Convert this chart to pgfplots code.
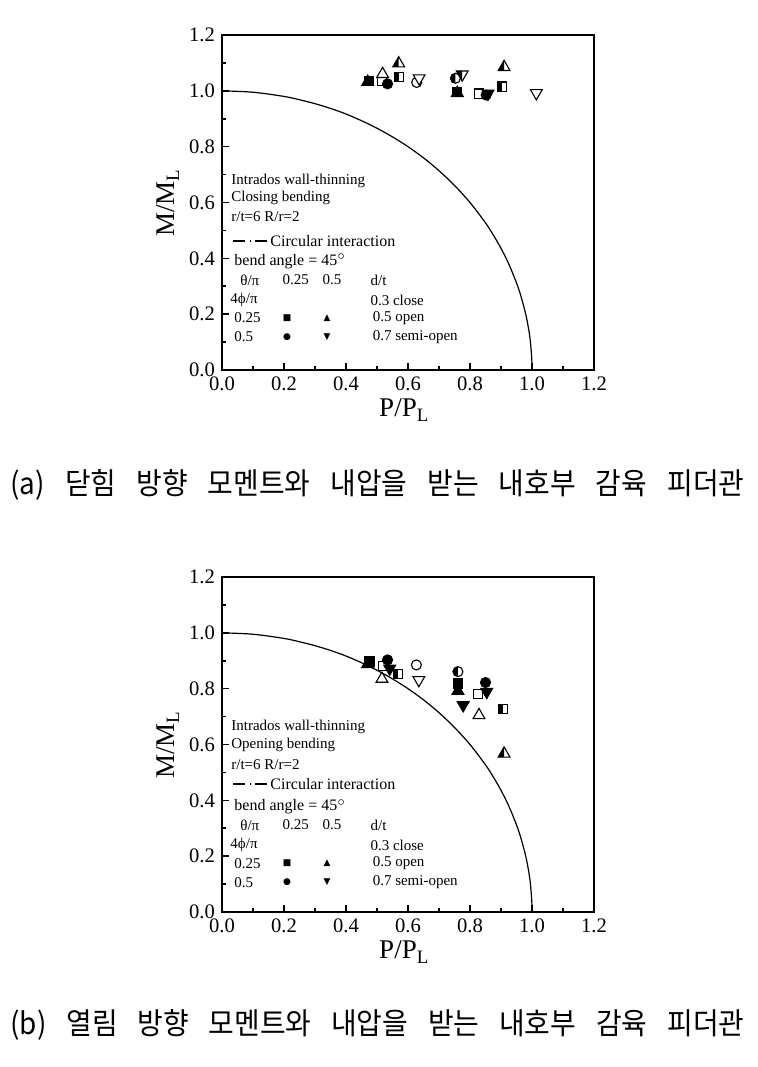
\documentclass[border=0pt]{standalone}
\usepackage{pgfplots}
\usepackage{pgfplotstable}
\pgfplotsset{compat=1.18}
\usepackage{fontspec}
\setmainfont{Liberation Serif}
\newfontfamily\kr[FakeStretch=0.93]{Noto Sans CJK KR}
\newfontfamily\sym{DejaVu Sans}

% ---- custom marks ----
\newcommand{\sqpath}{\pgfpathrectangle{\pgfpoint{-\pgfplotmarksize}{-\pgfplotmarksize}}{\pgfpoint{2\pgfplotmarksize}{2\pgfplotmarksize}}}
\newcommand{\sqhalf}{\pgfpathrectangle{\pgfpoint{-\pgfplotmarksize}{-\pgfplotmarksize}}{\pgfpoint{\pgfplotmarksize}{2\pgfplotmarksize}}}
\newcommand{\cipath}{\pgfpathcircle{\pgfpointorigin}{\pgfplotmarksize}}
\newcommand{\cihalf}{\pgfpathmoveto{\pgfpoint{0pt}{\pgfplotmarksize}}\pgfpatharc{90}{270}{\pgfplotmarksize}\pgfpathclose}
\newcommand{\trpath}{\pgfpathmoveto{\pgfpoint{0pt}{\pgfplotmarksize}}\pgfpathlineto{\pgfpointpolar{210}{\pgfplotmarksize}}\pgfpathlineto{\pgfpointpolar{-30}{\pgfplotmarksize}}\pgfpathclose}
\newcommand{\trhalf}{\pgfpathmoveto{\pgfpoint{0pt}{\pgfplotmarksize}}\pgfpathlineto{\pgfpointpolar{210}{\pgfplotmarksize}}\pgfpathlineto{\pgfpoint{0pt}{-0.5\pgfplotmarksize}}\pgfpathclose}
\newcommand{\dtpath}{\pgfpathmoveto{\pgfpoint{0pt}{-\pgfplotmarksize}}\pgfpathlineto{\pgfpointpolar{150}{\pgfplotmarksize}}\pgfpathlineto{\pgfpointpolar{30}{\pgfplotmarksize}}\pgfpathclose}
\newcommand{\dthalf}{\pgfpathmoveto{\pgfpoint{0pt}{-\pgfplotmarksize}}\pgfpathlineto{\pgfpointpolar{150}{\pgfplotmarksize}}\pgfpathlineto{\pgfpoint{0pt}{0.5\pgfplotmarksize}}\pgfpathclose}

\newcommand{\defmarks}[3]{% name, full path, half path
  \pgfdeclareplotmark{f#1}{#2\pgfsetfillcolor{black}\pgfusepath{fill,stroke}}%
  \pgfdeclareplotmark{o#1}{#2\pgfsetfillcolor{white}\pgfusepath{fill,stroke}}%
  \pgfdeclareplotmark{h#1}{#2\pgfsetfillcolor{white}\pgfusepath{fill}#3\pgfsetfillcolor{black}\pgfusepath{fill}#2\pgfusepath{stroke}}%
}
\defmarks{sq}{\sqpath}{\sqhalf}
\defmarks{ci}{\cipath}{\cihalf}
\defmarks{tr}{\trpath}{\trhalf}
\defmarks{dt}{\dtpath}{\dthalf}

\tikzset{
  leg/.style={anchor=west, inner sep=0pt, font=\fontsize{7.5}{9}\selectfont},
  legs/.style={anchor=center, inner sep=0pt, font=\sym\fontsize{4.5}{5}\selectfont},
}

\pgfplotsset{
  myax/.style={
    scale only axis, width=186pt, height=167.5pt, anchor=south west,
    xmin=0, xmax=1.2, ymin=0, ymax=1.2,
    xtick={0,0.2,0.4,0.6,0.8,1.0,1.2}, ytick={0,0.2,0.4,0.6,0.8,1.0,1.2},
    minor tick num=1, tick align=inside, tick pos=left,
    major tick length=3.5pt, minor tick length=2pt,
    axis line style={line width=0.9pt},
    tick style={line width=0.8pt, black},
    tick label style={font=\fontsize{10.3}{12}\selectfont},
    /pgf/number format/fixed, /pgf/number format/fixed zerofill,
    /pgf/number format/precision=1, /pgf/number format/assume math mode=true,
    xlabel={P/P\textsubscript{L}}, ylabel={M/M\textsubscript{L}},
    label style={font=\fontsize{13.5}{15}\selectfont},
    xlabel style={at={(axis description cs:0.49,-0.12)}, anchor=center},
    ylabel style={at={(axis description cs:-0.145,0.5)}, anchor=center},
    clip=false,
  },
  mk/.style={only marks, mark=#1, mark options={draw=black, line width=0.55pt}},
  sqm/.style={mark size=2.3pt}, cim/.style={mark size=2.5pt}, trm/.style={mark size=3.4pt},
}

\pgfplotstableread{
x y
0 1
0.1 0.995
0.2 0.980
0.25 0.968
0.3 0.954
0.35 0.937
0.4 0.917
0.45 0.893
0.5 0.866
0.55 0.835
0.6 0.800
0.65 0.760
0.7 0.714
0.75 0.661
0.8 0.600
0.85 0.527
0.875 0.484
0.9 0.436
0.925 0.380
0.95 0.312
0.965 0.262
0.98 0.199
0.99 0.141
0.995 0.100
0.999 0.045
1.0 0.02
}\circtab

\begin{document}
\begin{tikzpicture}
\useasboundingbox (0,0) rectangle (378.5pt,533.5pt);

% ================= (a) =================
\begin{axis}[myax, at={(111pt,348.5pt)}]
\addplot[black, line width=0.6pt, smooth] table {\circtab};
% open
\addplot[mk=osq, sqm] coordinates {(0.517,1.036) (0.829,0.990)};
\addplot[mk=otr, trm] coordinates {(0.518,1.060)};
\addplot[mk=oci, cim] coordinates {(0.628,1.030)};
\addplot[mk=odt, trm] coordinates {(0.636,1.045) (1.014,0.992)};
% half
\addplot[mk=hsq, sqm] coordinates {(0.570,1.050) (0.904,1.015)};
\addplot[mk=htr, trm] coordinates {(0.570,1.098) (0.910,1.085)};
\addplot[mk=hci, cim] coordinates {(0.753,1.045)};
\addplot[mk=hdt, trm] coordinates {(0.775,1.059)};
% filled
\addplot[mk=fsq, sqm] coordinates {(0.475,1.035) (0.758,0.995)};
\addplot[mk=ftr, trm] coordinates {(0.470,1.032) (0.759,0.992)};
\addplot[mk=fci, cim] coordinates {(0.534,1.025) (0.852,0.985)};
\addplot[mk=fdt, trm] coordinates {(0.858,0.990)};
% legend text
\node[leg] at (axis cs:0.029,0.677) {Intrados wall-thinning};
\node[leg] at (axis cs:0.029,0.616) {Closing bending};
\node[leg] at (axis cs:0.029,0.548) {r/t=6 R/r=2};
\draw[line width=0.7pt, dash pattern=on 6pt off 2.2pt on 0.7pt off 2.2pt] (axis cs:0.036,0.462) -- (axis cs:0.146,0.462);
\node[leg, font=\fontsize{8}{9}\selectfont] at (axis cs:0.155,0.462) {Circular interaction};
\node[leg, font=\fontsize{8}{9}\selectfont] at (axis cs:0.039,0.390) {bend angle = 45$^{\circ}$};
\node[leg] at (axis cs:0.058,0.322) {θ/π};
\node[leg] at (axis cs:0.194,0.322) {0.25};
\node[leg] at (axis cs:0.323,0.322) {0.5};
\node[leg] at (axis cs:0.478,0.322) {d/t};
\node[leg] at (axis cs:0.026,0.251) {4ϕ/π};
\node[leg] at (axis cs:0.478,0.251) {0.3 close};
\node[leg] at (axis cs:0.039,0.186) {0.25};
\node[legs] at (axis cs:0.210,0.186) {■};
\node[legs] at (axis cs:0.339,0.186) {▲};
\node[leg] at (axis cs:0.485,0.186) {0.5 open};
\node[leg] at (axis cs:0.039,0.118) {0.5};
\node[legs] at (axis cs:0.210,0.118) {●};
\node[legs] at (axis cs:0.339,0.118) {▼};
\node[leg] at (axis cs:0.485,0.118) {0.7 semi-open};
\end{axis}

% ================= (b) =================
\begin{axis}[myax, at={(111pt,77.5pt)}]
\addplot[black, line width=0.6pt, smooth] table {\circtab};
% open
\addplot[mk=osq, sqm] coordinates {(0.520,0.881) (0.826,0.781)};
\addplot[mk=otr, trm] coordinates {(0.516,0.835) (0.829,0.705)};
\addplot[mk=oci, cim] coordinates {(0.627,0.885)};
\addplot[mk=odt, trm] coordinates {(0.635,0.831)};
% half
\addplot[mk=hsq, sqm] coordinates {(0.568,0.852) (0.906,0.727)};
\addplot[mk=htr, trm] coordinates {(0.910,0.567)};
\addplot[mk=hci, cim] coordinates {(0.761,0.861)};
% filled
\addplot[mk=ftr, trm] coordinates {(0.470,0.888) (0.761,0.792)};
\addplot[mk=fsq, sqm] coordinates {(0.476,0.897) (0.761,0.819)};
\addplot[mk=fdt, trm] coordinates {(0.541,0.872) (0.778,0.741) (0.854,0.789)};
\addplot[mk=fci, cim] coordinates {(0.534,0.903) (0.850,0.822)};
% legend text
\node[leg] at (axis cs:0.029,0.663) {Intrados wall-thinning};
\node[leg] at (axis cs:0.029,0.598) {Opening bending};
\node[leg] at (axis cs:0.029,0.527) {r/t=6 R/r=2};
\draw[line width=0.7pt, dash pattern=on 6pt off 2.2pt on 0.7pt off 2.2pt] (axis cs:0.036,0.458) -- (axis cs:0.146,0.458);
\node[leg, font=\fontsize{8}{9}\selectfont] at (axis cs:0.155,0.458) {Circular interaction};
\node[leg, font=\fontsize{8}{9}\selectfont] at (axis cs:0.039,0.376) {bend angle = 45$^{\circ}$};
\node[leg] at (axis cs:0.058,0.312) {θ/π};
\node[leg] at (axis cs:0.194,0.312) {0.25};
\node[leg] at (axis cs:0.323,0.312) {0.5};
\node[leg] at (axis cs:0.478,0.312) {d/t};
\node[leg] at (axis cs:0.026,0.240) {4ϕ/π};
\node[leg] at (axis cs:0.478,0.240) {0.3 close};
\node[leg] at (axis cs:0.039,0.175) {0.25};
\node[legs] at (axis cs:0.210,0.175) {■};
\node[legs] at (axis cs:0.339,0.175) {▲};
\node[leg] at (axis cs:0.485,0.175) {0.5 open};
\node[leg] at (axis cs:0.039,0.107) {0.5};
\node[legs] at (axis cs:0.210,0.107) {●};
\node[legs] at (axis cs:0.339,0.107) {▼};
\node[leg] at (axis cs:0.485,0.107) {0.7 semi-open};
\end{axis}

% captions
\node[anchor=west, inner sep=0pt] at (5pt,291pt) {\kr\fontsize{15}{17}\selectfont\makebox[367pt][s]{(a) 닫힘 방향 모멘트와 내압을 받는 내호부 감육 피더관}};
\node[anchor=west, inner sep=0pt] at (5pt,21pt) {\kr\fontsize{15}{17}\selectfont\makebox[367pt][s]{(b) 열림 방향 모멘트와 내압을 받는 내호부 감육 피더관}};
\end{tikzpicture}
\end{document}
